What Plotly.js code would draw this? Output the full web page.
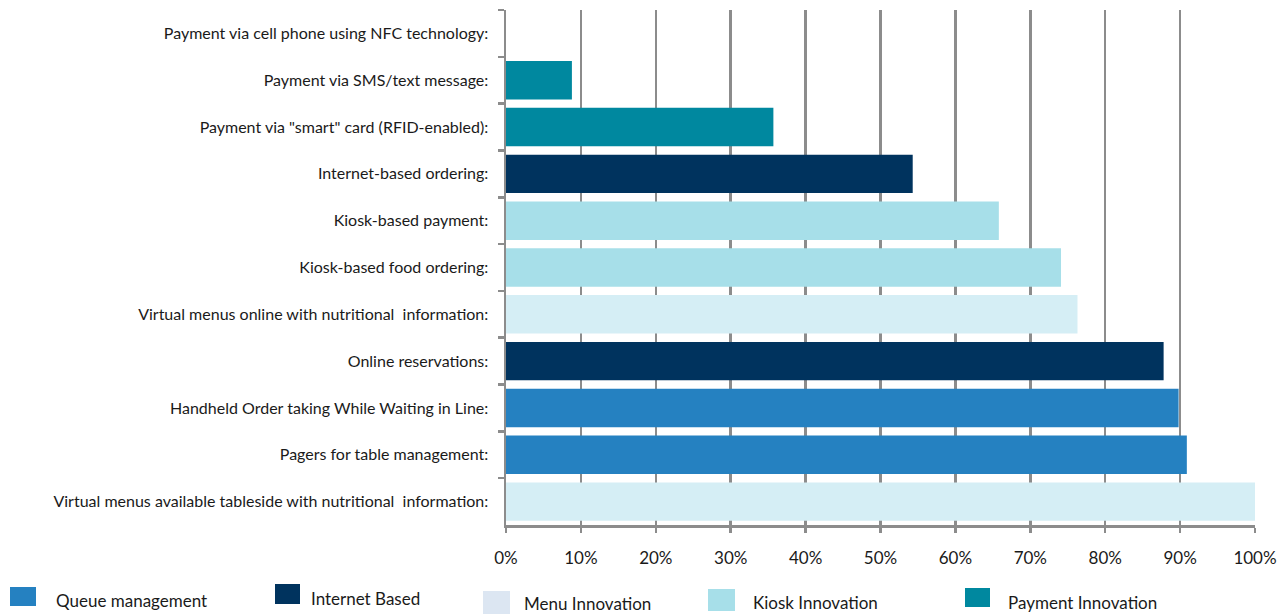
<!DOCTYPE html>
<html>
<head>
<meta charset="utf-8">
<script src="https://cdn.plot.ly/plotly-3.0.1.min.js"></script>
<style>
html,body{margin:0;padding:0;background:#fff;}
#chart{width:1284px;height:614px;}
</style>
</head>
<body>
<div id="chart"></div>
<script>
// Categories, top to bottom
const categories = [
  "Payment via cell phone using NFC technology:",
  "Payment via SMS/text message:",
  "Payment via \"smart\" card (RFID-enabled):",
  "Internet-based ordering:",
  "Kiosk-based payment:",
  "Kiosk-based food ordering:",
  "Virtual menus online with nutritional  information:",
  "Online reservations:",
  "Handheld Order taking While Waiting in Line:",
  "Pagers for table management:",
  "Virtual menus available tableside with nutritional  information:"
];
// Share of respondents (fraction) per category
const values = [0.0, 0.088, 0.357, 0.543, 0.658, 0.741, 0.763, 0.878, 0.898, 0.909, 1.0];
// Group of each category
const groups = [
  "Payment Innovation", "Payment Innovation", "Payment Innovation",
  "Internet Based", "Kiosk Innovation", "Kiosk Innovation",
  "Menu Innovation", "Internet Based", "Queue management",
  "Queue management", "Menu Innovation"
];
// Legend order
const groupNames = ["Queue management", "Internet Based", "Menu Innovation", "Kiosk Innovation", "Payment Innovation"];
const barColors = ["#2581C1", "#00335E", "#D5EEF5", "#A7DFE9", "#00889F"];
const legendSwatchColors = ["#2581C1", "#00335E", "#DCE6F2", "#A7DFE9", "#00889F"];
const xTickVals = [0, 0.1, 0.2, 0.3, 0.4, 0.5, 0.6, 0.7, 0.8, 0.9, 1.0];

const FONT = "Lato, 'Open Sans', sans-serif";
const GRID = "#8C8C8C";

const traces = groupNames.map((g, gi) => {
  const ys = [], xs = [];
  categories.forEach((c, i) => { if (groups[i] === g) { ys.push(c); xs.push(values[i]); } });
  return {
    type: "bar", orientation: "h", name: g, y: ys, x: xs,
    marker: {color: barColors[gi], line: {width: 0}},
    hoverinfo: "y+x", showlegend: false
  };
});

// Custom legend (swatches + labels) in paper coords
const W = 1284, H = 614;
const mL = 506, mR = 29, mT = 10, mB = 89;
const pw = W - mL - mR, ph = H - mT - mB;
const px = v => (v - mL) / pw;
const py = v => (H - mB - v) / ph;
const legendItems = [
  {x0: 10, x1: 36, y0: 587, y1: 606, tx: 54, ty: 600},
  {x0: 275, x1: 300, y0: 584, y1: 604, tx: 309, ty: 598},
  {x0: 483, x1: 510, y0: 591, y1: 614, tx: 522, ty: 603},
  {x0: 708, x1: 735, y0: 589, y1: 611, tx: 751, ty: 602},
  {x0: 965, x1: 990, y0: 588, y1: 607, tx: 1006, ty: 602}
];
const shapes = legendItems.map((it, i) => ({
  type: "rect", xref: "paper", yref: "paper",
  x0: px(it.x0), x1: px(it.x1), y0: py(it.y1), y1: py(it.y0),
  fillcolor: legendSwatchColors[i], line: {width: 0}
}));
const annotations = legendItems.map((it, i) => ({
  xref: "paper", yref: "paper", x: px(it.tx), y: py(it.ty),
  xanchor: "left", yanchor: "middle", showarrow: false,
  text: groupNames[i], font: {family: FONT, size: 17, color: "#1a1a1a"}
}));

const layout = {
  width: W, height: H,
  margin: {l: mL, r: mR, t: mT, b: mB, pad: 0},
  paper_bgcolor: "#fff", plot_bgcolor: "#fff",
  barmode: "overlay", bargap: 0.18,
  font: {family: FONT, size: 16, color: "#1a1a1a"},
  xaxis: {
    range: [0, 1], tickvals: xTickVals, tickformat: ".0%",
    showgrid: true, gridcolor: GRID, gridwidth: 2.5,
    showline: true, linecolor: GRID, linewidth: 2.5,
    ticks: "outside", ticklen: 5, tickwidth: 2.5, tickcolor: GRID,
    zeroline: false, ticklabelstandoff: 11,
    tickfont: {family: FONT, size: 17, color: "#1a1a1a"}, fixedrange: true
  },
  yaxis: {
    type: "category", categoryorder: "array", categoryarray: categories,
    autorange: "reversed", tickson: "boundaries",
    showgrid: false, showline: true, linecolor: GRID, linewidth: 2.5,
    ticks: "outside", ticklen: 6, tickwidth: 2.5, tickcolor: GRID,
    ticklabelstandoff: 12, zeroline: false,
    tickfont: {family: FONT, size: 16, color: "#1a1a1a"}, fixedrange: true
  },
  shapes: shapes,
  annotations: annotations
};

Plotly.newPlot("chart", traces, layout, {displayModeBar: false, staticPlot: true});
</script>
</body>
</html>
